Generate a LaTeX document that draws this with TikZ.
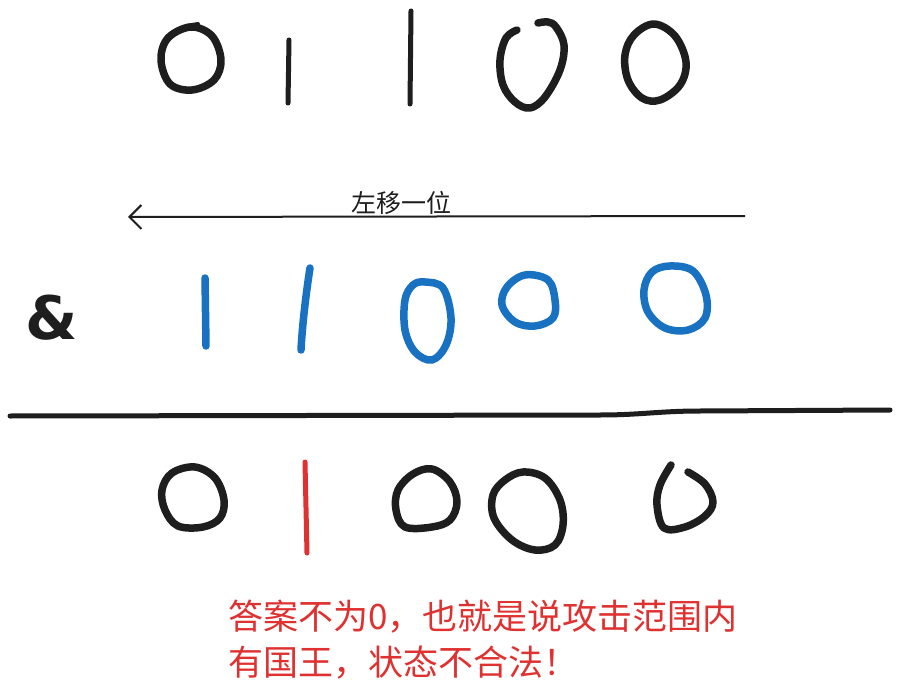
\documentclass[tikz,border=0pt]{standalone}
\usepackage{fontspec}
\newfontfamily\cjk{Noto Sans CJK SC}
\newfontfamily\ampfont{DejaVu Sans}
\usetikzlibrary{arrows.meta}
\definecolor{ink}{HTML}{1E1E1E}
\definecolor{bl}{HTML}{1971C2}
\definecolor{rd}{HTML}{E03131}
\tikzset{
  dig/.style={line width=7.5pt, line cap=round, line join=round},
  one/.style={line width=5pt, line cap=round},
  lab/.style={font=\cjk\fontsize{25}{28}\selectfont, text=ink},
  note/.style={font=\cjk\fontsize{35}{40}\selectfont, text=rd, anchor=west, inner sep=0pt},
}
\begin{document}
\begin{tikzpicture}[x=1pt,y=-1pt]
\useasboundingbox[fill=white] (0,0) rectangle (900,698);
% row 1
\draw[dig,ink] plot[smooth cycle, tension=0.6] coordinates {(191,27) (212,36) (221,60) (214,80) (192,90) (170,84) (161,60) (168,38)};
\draw[ink,line width=4pt,line cap=round] (186,26) -- (198,24);
\draw[one,ink] (289,40) -- (288,103);
\draw[one,ink] (411,11) -- (410,104);
\draw[dig,ink] plot[smooth, tension=0.6] coordinates {(517,30) (506,38) (500,60) (503,85) (515,102) (530,108) (545,97) (560,70) (564,45) (556,27) (548,22) (538,23)};
\draw[dig,ink] plot[smooth cycle, tension=0.6] coordinates {(654,24) (675,36) (686,62) (680,85) (660,100) (642,98) (628,80) (625,55) (634,35)};
% arrow
\coordinate (as) at (745,216);
\coordinate (ae) at (128,217);
\draw[ink,line width=2pt,-{Straight Barb[length=12pt,width=24pt]}] (as) -- (ae);
\node[lab] (shift) at (401,203) {左移一位};
% row 2
\node[font=\ampfont\bfseries\fontsize{60}{60}\selectfont, text=ink] (amp) at (52,318) {\&};
\draw[dig,bl] (205,278) -- (206,346);
\draw[dig,bl] (310,268) .. controls (305,300) and (302,330) .. (301,350);
\draw[dig,bl] plot[smooth cycle, tension=0.6] coordinates {(425,282) (443,288) (451,318) (446,345) (432,360) (415,352) (405,330) (405,300) (413,285)};
\draw[dig,bl] plot[smooth cycle, tension=0.6] coordinates {(525,275) (548,280) (555,300) (553,318) (535,326) (515,322) (502,305) (507,287)};
\draw[dig,bl] plot[smooth cycle, tension=0.6] coordinates {(670,266) (693,271) (706,295) (705,318) (688,330) (665,328) (648,312) (644,290) (652,272)};
% result line
\coordinate (l1) at (10,416);
\coordinate (l2) at (890,410);
\draw[ink,line width=5pt,line cap=round] (l1) -- (600,415) .. controls (640,415) and (660,411) .. (700,411) -- (l2);
% row 3
\draw[dig,ink] plot[smooth cycle, tension=0.6] coordinates {(195,467) (215,478) (224,500) (220,518) (203,527) (178,526) (165,510) (162,490) (172,473)};
\draw[rd,line width=5pt,line cap=round] (305,462) -- (307,553);
\draw[dig,ink] plot[smooth cycle, tension=0.6] coordinates {(432,469) (450,482) (457,502) (450,520) (432,527) (405,527) (396,510) (398,490) (413,474)};
\draw[dig,ink] plot[smooth cycle, tension=0.6] coordinates {(523,472) (545,478) (560,500) (563,525) (555,545) (535,550) (512,540) (494,518) (493,495) (505,480)};
\draw[dig,ink] plot[smooth, tension=0.6] coordinates {(688,472) (705,484) (713,502) (705,516) (685,527) (664,528) (657,505) (660,485) (671,465)};
% note
\node[note] (n1) at (228,617) {答案不为0，也就是说攻击范围内};
\node[note] (n2) at (228,663) {有国王，状态不合法！};
\end{tikzpicture}
\end{document}
